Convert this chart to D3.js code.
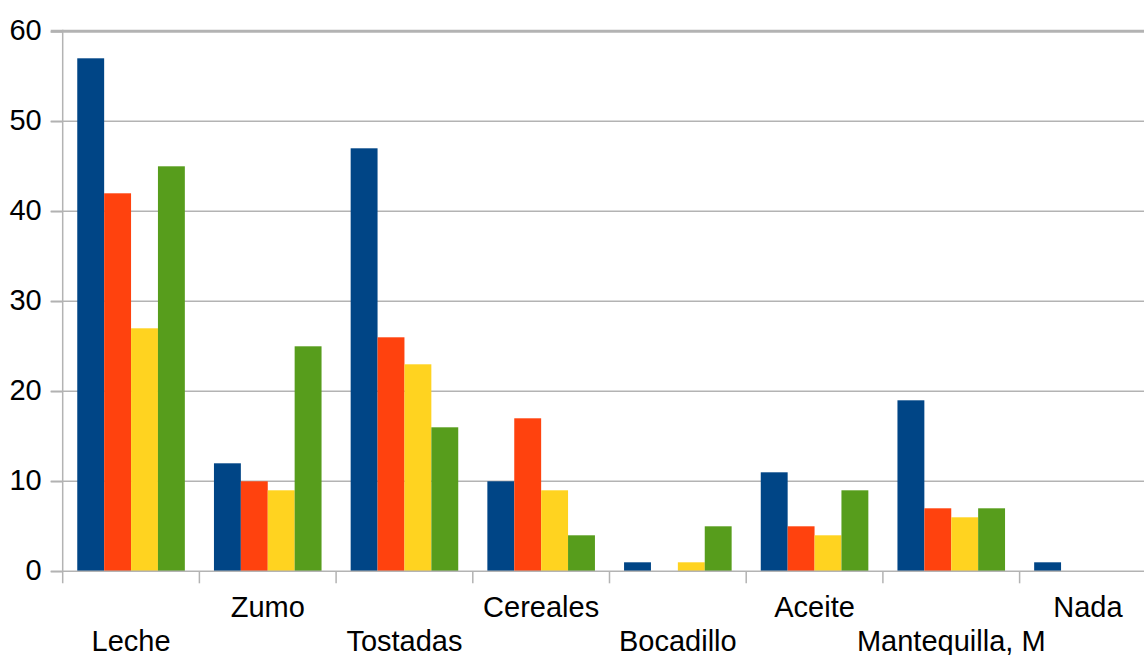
<!DOCTYPE html>
<html>
<head>
<meta charset="utf-8">
<script src="https://cdn.jsdelivr.net/npm/d3@7"></script>
<style>
  html, body { margin: 0; padding: 0; background: #fff; }
  svg { display: block; }
  text { font-family: "Liberation Sans", Arial, sans-serif; fill: #000; }
</style>
</head>
<body>
<svg id="chart" width="1144" height="655"></svg>
<script>
// Breakfast items and the four groups of answers per item
const categories = ["Leche", "Zumo", "Tostadas", "Cereales", "Bocadillo", "Aceite", "Mantequilla, M", "Nada"];
const seriesA = [57, 12, 47, 10, 1, 11, 19, 1];
const seriesB = [42, 10, 26, 17, 0, 5, 7, 0];
const seriesC = [27, 9, 23, 9, 1, 4, 6, 0];
const seriesD = [45, 25, 16, 4, 5, 9, 7, 0];
const yTicks = [0, 10, 20, 30, 40, 50, 60];

const series = [seriesA, seriesB, seriesC, seriesD];
const colors = ["#004586", "#ff420e", "#ffd320", "#579d1c"];

const svg = d3.select("#chart");
const plotLeft = 62.7, step = 136.7;
const plotTop = 31.3, plotBottom = 571.3;
const fontSize = 29;

const x = d3.scaleBand()
  .domain(categories)
  .range([plotLeft, plotLeft + step * categories.length])
  .paddingInner(0.213)
  .paddingOuter(0.1065);

const xi = d3.scaleBand()
  .domain(d3.range(series.length))
  .range([0, x.bandwidth()]);

const y = d3.scaleLinear().domain([0, 60]).range([plotBottom, plotTop]);

const grid = "#b3b3b3";

// horizontal gridlines
svg.append("g")
  .selectAll("line")
  .data(yTicks.filter(t => t > 0))
  .join("line")
  .attr("x1", plotLeft - 12)
  .attr("x2", 1144)
  .attr("y1", d => y(d))
  .attr("y2", d => y(d))
  .attr("stroke", grid)
  .attr("stroke-width", d => d === 60 ? 3 : 1.5);

// bars
const groups = svg.append("g")
  .selectAll("g")
  .data(categories)
  .join("g")
  .attr("transform", d => `translate(${x(d)},0)`);

groups.selectAll("rect")
  .data((c, i) => series.map((s, k) => ({ k, v: s[i] })))
  .join("rect")
  .attr("x", d => xi(d.k))
  .attr("width", xi.bandwidth())
  .attr("y", d => y(d.v))
  .attr("height", d => plotBottom - y(d.v))
  .attr("fill", d => colors[d.k]);

// y axis
const yAxis = svg.append("g")
  .attr("transform", `translate(${plotLeft},0)`)
  .call(d3.axisLeft(y).tickValues(yTicks).tickSize(12).tickPadding(9));
yAxis.select(".domain").remove();
yAxis.selectAll(".tick line").attr("stroke", grid).attr("stroke-width", 1.5);
yAxis.selectAll(".tick text")
  .attr("font-size", fontSize)
  .attr("fill", "#000")
  .attr("dy", "0.28em")
  .attr("font-family", "Liberation Sans, Arial, sans-serif");

svg.append("line")
  .attr("x1", plotLeft).attr("x2", plotLeft)
  .attr("y1", plotTop - 1.5).attr("y2", plotBottom + 12)
  .attr("stroke", grid).attr("stroke-width", 1.5);

// baseline and category separators
svg.append("line")
  .attr("x1", plotLeft - 12).attr("x2", 1144)
  .attr("y1", plotBottom).attr("y2", plotBottom)
  .attr("stroke", grid).attr("stroke-width", 1.5);

svg.append("g")
  .selectAll("line")
  .data(d3.range(1, categories.length + 1))
  .join("line")
  .attr("x1", i => plotLeft + step * i)
  .attr("x2", i => plotLeft + step * i)
  .attr("y1", plotBottom)
  .attr("y2", plotBottom + 12)
  .attr("stroke", grid)
  .attr("stroke-width", 1.5);

// category labels, staggered on two rows
svg.append("g")
  .selectAll("text")
  .data(categories)
  .join("text")
  .attr("x", d => x(d) + x.bandwidth() / 2)
  .attr("y", (d, i) => i % 2 === 0 ? 651 : 617)
  .attr("text-anchor", "middle")
  .attr("font-size", fontSize)
  .text(d => d);
</script>
</body>
</html>
